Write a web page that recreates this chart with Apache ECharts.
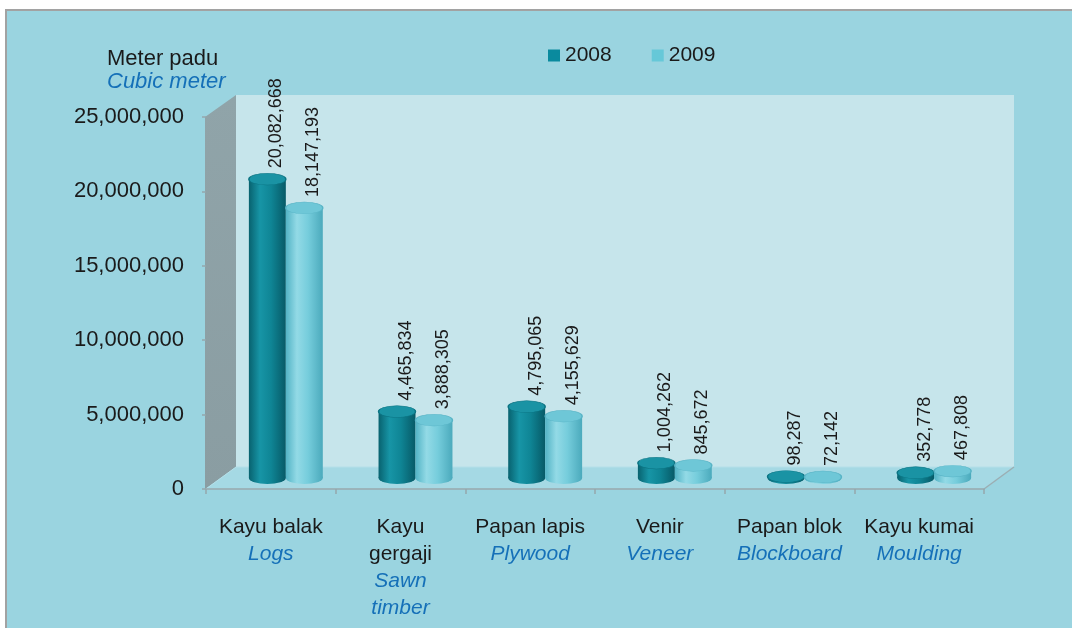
<!DOCTYPE html>
<html>
<head>
<meta charset="utf-8">
<title>Pengeluaran kayu</title>
<script src="https://cdn.jsdelivr.net/npm/echarts@6/dist/echarts.min.js"></script>
<style>
  html, body { margin: 0; padding: 0; background: #ffffff; }
  #chart { width: 1072px; height: 628px; }
</style>
</head>
<body>
<div id="chart"></div>
<script>
// Product names (Malay / English) and yearly volumes in cubic metres
const categoriesMs = ['Kayu balak', 'Kayu\ngergaji', 'Papan lapis', 'Venir', 'Papan blok', 'Kayu kumai'];
const categoriesEn = ['Logs', 'Sawn\ntimber', 'Plywood', 'Veneer', 'Blockboard', 'Moulding'];
const years = ['2008', '2009'];
const values2008 = [20082668, 4465834, 4795065, 1004262, 98287, 352778];
const values2009 = [18147193, 3888305, 4155629, 845672, 72142, 467808];
const yTicks = { min: 0, max: 25000000, interval: 5000000 };

const FONT = '"Liberation Sans", Arial, Helvetica, sans-serif';
const DEPTH_X = 30;   // horizontal shift of the back plane
const DEPTH_Y = -22;  // vertical shift of the back plane

const palettes = [
  { legend: '#0A8A9E',
    body: ['#08626F', '#1795A6', '#0F8595', '#075A67'],
    top: '#1A93A4', rim: '#0B7382' },
  { legend: '#66C8D8',
    body: ['#52B3C5', '#93DAE6', '#76CDDC', '#4BAABC'],
    top: '#6EC7D7', rim: '#58B4C6' }
];

const fmt = v => v.toLocaleString('en-US');

// Walls and floor of the box, derived from the grid rectangle
function renderFrame(params, api) {
  const r = params.coordSys;
  const x0 = r.x, y0 = r.y, x1 = r.x + r.width, y1 = r.y + r.height;
  return {
    type: 'group',
    children: [
      { type: 'rect',
        shape: { x: x0 + DEPTH_X, y: y0 + DEPTH_Y, width: r.width, height: r.height },
        style: { fill: '#C6E5EB' } },
      { type: 'polygon',
        shape: { points: [[x0 - 1, y0], [x0 + DEPTH_X, y0 + DEPTH_Y], [x0 + DEPTH_X, y1 + DEPTH_Y], [x0 - 1, y1]] },
        style: { fill: { type: 'linear', x: 0, y: 0, x2: 0, y2: 1,
          colorStops: [{ offset: 0, color: '#90A4A9' }, { offset: 1, color: '#8A9DA2' }] } } },
      { type: 'polygon',
        shape: { points: [[x0, y1], [x1, y1], [x1 + DEPTH_X, y1 + DEPTH_Y], [x0 + DEPTH_X, y1 + DEPTH_Y]] },
        style: { fill: '#A5D9E4', stroke: '#B5DFE8', lineWidth: 1 } },
      { type: 'line',
        shape: { x1: x1, y1: y1, x2: x1 + DEPTH_X, y2: y1 + DEPTH_Y },
        style: { stroke: '#9AAEB3', lineWidth: 1.5 } }
    ]
  };
}

// Cylinder bars standing halfway into the box depth
function makeCylinderRenderer(seriesIdx) {
  const pal = palettes[seriesIdx];
  return function (params, api) {
    const cat = api.value(0), val = api.value(1);
    const base = api.coord([cat, 0]);
    const top = api.coord([cat, val]);
    const band = api.size([1, 0])[0];
    const w = band * 0.285;
    const rx = w / 2, ry = w * 0.16;
    const cx = base[0] + DEPTH_X / 2 + (seriesIdx === 0 ? -w / 2 : w / 2);
    const yb = base[1] + DEPTH_Y / 2;
    const yt = top[1] + DEPTH_Y / 2;
    const bodyFill = { type: 'linear', x: 0, y: 0, x2: 1, y2: 0, colorStops: [
      { offset: 0, color: pal.body[0] }, { offset: 0.3, color: pal.body[1] },
      { offset: 0.6, color: pal.body[2] }, { offset: 1, color: pal.body[3] }] };
    return {
      type: 'group',
      children: [
        { type: 'circle', x: cx, y: yb, scaleY: ry / rx,
          shape: { cx: 0, cy: 0, r: rx }, style: { fill: bodyFill } },
        { type: 'rect', shape: { x: cx - rx, y: yt, width: w, height: Math.max(yb - yt, 0) },
          style: { fill: bodyFill } },
        { type: 'circle', x: cx, y: yt, scaleY: ry / rx,
          shape: { cx: 0, cy: 0, r: rx },
          style: { fill: pal.top, stroke: pal.rim, lineWidth: 1.5 } },
        { type: 'text', x: cx + 9, y: yt - ry - 5, rotation: Math.PI / 2,
          style: { text: fmt(val), fill: '#1a1a1a', font: '18px ' + FONT,
                   align: 'left', verticalAlign: 'middle' } }
      ]
    };
  };
}

const chart = echarts.init(document.getElementById('chart'), null, { renderer: 'canvas' });

chart.setOption({
  animation: false,
  backgroundColor: '#ffffff',
  graphic: [{
    type: 'rect', z: -10, silent: true,
    shape: { x: 6, y: 10, width: 1100, height: 660 },
    style: { fill: '#9AD4E0', stroke: '#A2A2A2', lineWidth: 2 }
  }],
  title: {
    text: 'Meter padu',
    subtext: 'Cubic meter',
    left: 107, top: 47, itemGap: 0, padding: 0,
    textStyle: { fontFamily: FONT, fontSize: 22, fontWeight: 'normal', color: '#1a1a1a', lineHeight: 23 },
    subtextStyle: { fontFamily: FONT, fontSize: 22, fontStyle: 'italic', color: '#1570B8', lineHeight: 23 }
  },
  legend: {
    data: years,
    left: 543, top: 40, itemGap: 40,
    itemWidth: 12, itemHeight: 12, icon: 'rect',
    textStyle: { fontFamily: FONT, fontSize: 21, color: '#1a1a1a' }
  },
  grid: { left: 206, right: 88, top: 117, bottom: 139, containLabel: false },
  xAxis: {
    type: 'category',
    data: categoriesMs,
    axisLine: { show: true, lineStyle: { color: '#95A7AC', width: 1.5 } },
    axisTick: { show: true, length: 5, lineStyle: { color: '#95A7AC', width: 1.5 } },
    axisLabel: {
      margin: 25, interval: 0,
      formatter: (v, i) => {
        const ms = categoriesMs[i].split('\n').map(s => '{ms|' + s + '}');
        const en = categoriesEn[i].split('\n').map(s => '{en|' + s + '}');
        return ms.concat(en).join('\n');
      },
      rich: {
        ms: { fontFamily: FONT, fontSize: 21, color: '#1a1a1a', lineHeight: 27 },
        en: { fontFamily: FONT, fontSize: 21, color: '#1570B8', fontStyle: 'italic', lineHeight: 27 }
      }
    }
  },
  yAxis: {
    type: 'value',
    min: yTicks.min, max: yTicks.max, interval: yTicks.interval,
    splitLine: { show: false },
    axisLine: { show: false },
    axisTick: { show: true, length: 4, lineStyle: { color: '#95A7AC', width: 1.5 } },
    axisLabel: { margin: 22, fontFamily: FONT, fontSize: 22, color: '#1a1a1a', formatter: fmt }
  },
  series: [
    { name: 'frame', type: 'custom', silent: true, z: 0,
      renderItem: renderFrame, data: [[0, 0]] },
    { name: years[0], type: 'custom', z: 2, itemStyle: { color: palettes[0].legend },
      renderItem: makeCylinderRenderer(0),
      data: values2008.map((v, i) => [i, v]) },
    { name: years[1], type: 'custom', z: 3, itemStyle: { color: palettes[1].legend },
      renderItem: makeCylinderRenderer(1),
      data: values2009.map((v, i) => [i, v]) }
  ]
});
</script>
</body>
</html>
